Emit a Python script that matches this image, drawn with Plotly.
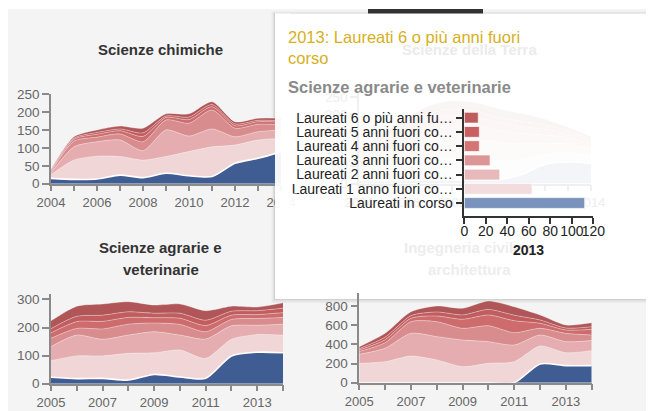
import plotly.graph_objects as go

# ---------------- data ----------------
series_names = [
    "Laureati in corso",
    "Laureati 1 anno fuori corso",
    "Laureati 2 anni fuori corso",
    "Laureati 3 anni fuori corso",
    "Laureati 4 anni fuori corso",
    "Laureati 5 anni fuori corso",
    "Laureati 6 o più anni fuori corso",
]
bar_labels = [
    "Laureati in corso",
    "Laureati 1 anno fuori co…",
    "Laureati 2 anni fuori co…",
    "Laureati 3 anni fuori co…",
    "Laureati 4 anni fuori co…",
    "Laureati 5 anni fuori co…",
    "Laureati 6 o più anni fu…",
]
area_colors = ["#3f5d93", "#f1d6d8", "#e5adb0", "#d98c8e", "#cd6b6d", "#c25d5f", "#b05558"]
bar_colors = ["#7a93bd", "#f2dcdd", "#e8b9bb", "#dd9697", "#d47475", "#c95f61", "#bf5c5e"]

years_chim = list(range(2004, 2015))
chim_in_corso = [15, 12, 13, 24, 17, 29, 22, 20, 57, 71, 89]
chim_1 = [10, 54, 64, 52, 49, 47, 68, 83, 51, 51, 38]
chim_2 = [5, 37, 40, 46, 26, 74, 43, 50, 23, 23, 23]
chim_3 = [3, 16, 13, 17, 25, 28, 36, 53, 24, 21, 15]
chim_4 = [3, 5, 8, 9, 15, 7, 10, 9, 7, 7, 7]
chim_5 = [2, 3, 5, 5, 10, 4, 7, 6, 5, 4, 4]
chim_6 = [2, 4, 7, 8, 13, 6, 9, 8, 6, 6, 7]

years_terra = list(range(2004, 2015))
terra_in_corso = [8, 8, 9, 10, 10, 11, 12, 25, 55, 62, 58]
terra_1 = [40, 50, 60, 65, 65, 60, 55, 45, 30, 28, 25]
terra_2 = [25, 35, 45, 55, 60, 58, 52, 45, 30, 25, 20]
terra_3 = [12, 20, 28, 35, 38, 38, 35, 30, 25, 18, 12]
terra_4 = [7, 12, 18, 22, 25, 25, 22, 20, 17, 12, 8]
terra_5 = [5, 8, 12, 15, 17, 17, 16, 15, 12, 8, 6]
terra_6 = [5, 10, 15, 22, 24, 25, 24, 22, 17, 10, 7]

years_agr = list(range(2005, 2015))
agr_in_corso = [23, 18, 19, 13, 33, 24, 19, 99, 112, 110]
agr_1 = [59, 81, 80, 95, 77, 96, 71, 59, 63, 63]
agr_2 = [50, 74, 59, 65, 75, 53, 69, 48, 33, 39]
agr_3 = [30, 24, 37, 39, 31, 38, 26, 23, 24, 24]
agr_4 = [19, 24, 27, 24, 19, 22, 22, 15, 14, 17]
agr_5 = [15, 19, 22, 20, 16, 18, 19, 14, 14, 16]
agr_6 = [28, 36, 40, 36, 29, 33, 34, 18, 13, 19]

years_ing = list(range(2005, 2015))
ing_in_corso = [0, 0, 0, 0, 0, 0, 0, 195, 178, 178]
ing_1 = [202, 219, 278, 237, 167, 202, 219, 188, 135, 156]
ing_2 = [94, 140, 237, 243, 278, 226, 174, 114, 115, 105]
ing_3 = [29, 58, 121, 156, 122, 166, 128, 70, 87, 58]
ing_4 = [16, 31, 35, 59, 94, 112, 125, 52, 34, 59]
ing_5 = [14, 27, 28, 42, 46, 58, 58, 35, 21, 28]
ing_6 = [20, 40, 41, 63, 69, 88, 88, 52, 32, 41]

hover_year = 2013
ticks_chim = [0, 50, 100, 150, 200, 250]
ticks_terra = [0, 50, 100, 150, 200, 250]
ticks_agr = [0, 100, 200, 300]
ticks_ing = [0, 200, 400, 600, 800]

chim_values = [chim_in_corso, chim_1, chim_2, chim_3, chim_4, chim_5, chim_6]
terra_values = [terra_in_corso, terra_1, terra_2, terra_3, terra_4, terra_5, terra_6]
agr_values = [agr_in_corso, agr_1, agr_2, agr_3, agr_4, agr_5, agr_6]
ing_values = [ing_in_corso, ing_1, ing_2, ing_3, ing_4, ing_5, ing_6]

# ---------------- layout helpers ----------------
OX, OY = 8, 8          # browser body margin
FW, FH = 646, 403      # figure size
FONT = "Liberation Sans, Arial, sans-serif"


def fx(x):
    return (x - OX) / FW


def fy(y):
    return 1 - (y - OY) / FH


def fade(hexcol, a):
    h = hexcol.lstrip("#")
    r, g, b = (int(h[i:i + 2], 16) for i in (0, 2, 4))
    return "rgb(%d,%d,%d)" % tuple(round(255 - (255 - c) * a) for c in (r, g, b))


fig = go.Figure()


def max_total(values):
    return max(sum(col) for col in zip(*values))


def add_area(values, years, n, faint=False):
    ax = "" if n == 1 else str(n)
    for i, (name, vals) in enumerate(zip(series_names, values)):
        fig.add_trace(go.Scatter(
            x=years, y=vals, xaxis="x" + ax, yaxis="y" + ax,
            stackgroup="g%d" % n, mode="lines",
            line=dict(shape="spline", smoothing=0.7,
                      width=1.6 if i == 0 else 0.8,
                      color="white" if i == 0 else "rgba(255,255,255,0.45)"),
            fillcolor=fade(area_colors[i], 0.06) if faint else area_colors[i],
            name=name, showlegend=False, hoverinfo="skip"))


def area_axes(n, x0, x1, ytop, ybot, years, ymax, yticks, faint=False):
    ax = "" if n == 1 else str(n)
    lc = "#f0f0f0" if faint else "#8a8a8a"
    tc = "#eeeeee" if faint else "#666666"
    fig.update_layout(**{
        "xaxis" + ax: dict(
            domain=[fx(x0), fx(x1)], range=[years[0], years[-1]], anchor="y" + ax,
            tickmode="linear", tick0=years[0], dtick=2, ticks="outside", ticklen=6,
            tickwidth=1.5, tickcolor=lc, showline=True, linecolor=lc, linewidth=1.5,
            showgrid=False, zeroline=False, automargin=False,
            tickfont=dict(size=13, color=tc, family=FONT),
            minor=dict(tickmode="linear", tick0=years[0], dtick=1, ticks="outside",
                       ticklen=6, tickwidth=1.5, tickcolor=lc, showgrid=False),
            fixedrange=True),
        "yaxis" + ax: dict(
            domain=[fy(ybot), fy(ytop)], range=[0, ymax], anchor="x" + ax,
            tickmode="array", tickvals=yticks, ticks="outside", ticklen=7,
            tickwidth=1.5, tickcolor=lc, showline=True, linecolor=lc, linewidth=1.5,
            showgrid=False, zeroline=False, automargin=False,
            tickfont=dict(size=13.5, color=tc, family=FONT),
            fixedrange=True),
    })


# ---------------- area charts ----------------
add_area(chim_values, years_chim, 1)
area_axes(1, 51, 281, 93.5, 183.7, years_chim, 1.1 * max_total(chim_values), ticks_chim)

add_area(terra_values, years_terra, 2, faint=True)
area_axes(2, 359, 591, 92.5, 183.5, years_terra, 1.1 * max_total(terra_values), ticks_terra, faint=True)

add_area(agr_values, years_agr, 3)
area_axes(3, 51, 283, 293.5, 383.7, years_agr, 1.1 * max_total(agr_values), ticks_agr)

add_area(ing_values, years_ing, 4)
area_axes(4, 359.3, 591.7, 292.8, 382.7, years_ing, 1.1 * max_total(ing_values), ticks_ing)

# ---------------- tooltip bar chart ----------------
bar_vals = [layer[years_agr.index(hover_year)] for layer in agr_values]
fig.add_trace(go.Bar(
    x=bar_vals, y=bar_labels, orientation="h", xaxis="x5", yaxis="y5",
    marker=dict(color=bar_colors, line=dict(color="rgba(255,255,255,0.7)", width=1)),
    width=0.76, showlegend=False, hoverinfo="skip"))
fig.update_layout(
    xaxis5=dict(domain=[fx(464.3), fx(593.3)], range=[0, 120], anchor="y5",
                tickmode="linear", tick0=0, dtick=20, ticks="outside", ticklen=6,
                tickwidth=1.5, tickcolor="#333", showline=True, linecolor="#333",
                linewidth=1.5, showgrid=False, zeroline=False, tickangle=0,
                automargin=False, ticklabelstandoff=-5,
                tickfont=dict(size=14, color="#222", family=FONT), fixedrange=True),
    yaxis5=dict(domain=[fy(216), fy(109.3)], type="category", categoryorder="array",
                categoryarray=bar_labels, range=[-0.914, 6.59], anchor="x5",
                tickmode="array", tickvals=bar_labels,
                ticks="outside", ticklen=7, tickwidth=1.5, tickcolor="#333",
                showline=True, linecolor="#333", linewidth=1.5, showgrid=False,
                zeroline=False, automargin=False,
                tickfont=dict(size=14, color="#222", family=FONT),
                fixedrange=True),
)

# ---------------- shapes (background, tooltip box) ----------------
def rect(x0, y0, x1, y1, color, layer="below", opacity=1):
    return dict(type="rect", xref="paper", yref="paper", x0=fx(x0), x1=fx(x1),
                y0=fy(y1), y1=fy(y0), fillcolor=color, line=dict(width=0),
                layer=layer, opacity=opacity)


shapes = [
    rect(8, 8, 654, 9, "#ffffff"),
    rect(368, 9, 483, 14, "#333333"),
    rect(271.5, 11.5, 654, 303, "rgba(0,0,0,0.035)"),
    rect(273, 12.5, 654, 301.5, "rgba(0,0,0,0.05)"),
    rect(274, 13, 654, 300, "rgba(0,0,0,0.06)"),
    rect(275, 13.5, 654, 299, "#ffffff"),
    rect(275, 13.5, 290, 299, "#ffffff", layer="above", opacity=0.94),
    rect(275, 193.5, 297, 212, "#ffffff", layer="above", opacity=0.94),
]

# ---------------- annotations ----------------
def text(x, y, s, size, color, bold=False, anchor="center"):
    return dict(xref="paper", yref="paper", x=fx(x), y=fy(y), text=("<b>%s</b>" % s) if bold else s,
                showarrow=False, xanchor=anchor, yanchor="middle",
                font=dict(size=size, color=color, family=FONT))


annotations = [
    text(160.3, 50, "Scienze chimiche", 15, "#333333", bold=True),
    text(160.6, 248, "Scienze agrarie e", 15, "#333333", bold=True),
    text(160.6, 269, "veterinarie", 15, "#333333", bold=True),
    text(469, 50, "Scienze della Terra", 15, "#ebebeb", bold=True),
    text(469, 248, "Ingegneria civile e", 15, "#ededed", bold=True),
    text(469.7, 269, "architettura", 15, "#ededed", bold=True),
    text(286, 37, "%d: Laureati 6 o più anni fuori" % hover_year, 16.5, "#d6b020", anchor="left"),
    text(286, 58, "corso", 16.5, "#d6b020", anchor="left"),
    text(286, 87, "Scienze agrarie e veterinarie", 16.5, "#8a8a8a", bold=True, anchor="left"),
    text(528.8, 250, str(hover_year), 14, "#222222", bold=True),
]

fig.update_layout(
    width=FW, height=FH, autosize=False,
    margin=dict(l=0, r=0, t=0, b=0, pad=0),
    paper_bgcolor="#f4f4f4", plot_bgcolor="rgba(0,0,0,0)",
    font=dict(family=FONT),
    shapes=shapes, annotations=annotations,
    showlegend=False, bargap=0.2,
)

fig.write_html("out.html")
